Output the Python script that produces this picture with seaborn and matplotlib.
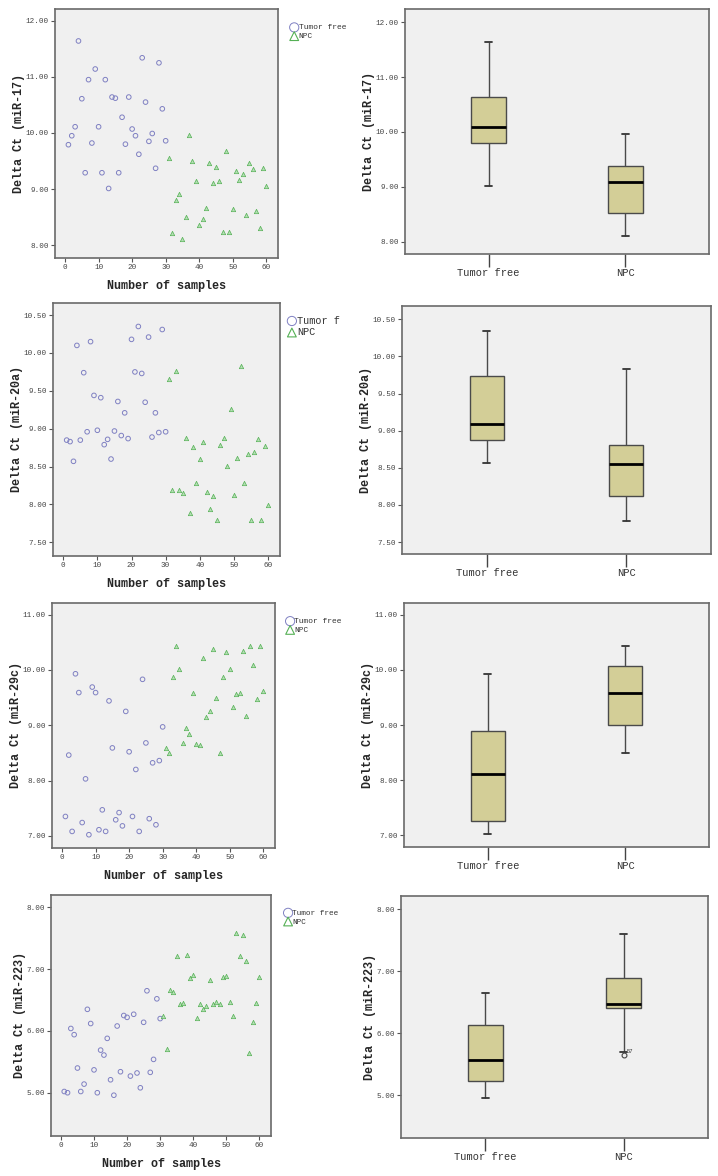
import numpy as np
import pandas as pd
import matplotlib
matplotlib.use("Agg")
import matplotlib.pyplot as plt
import seaborn as sns

sns.set_theme(style="white")
plt.rcParams['font.family'] = ['Liberation Mono', 'DejaVu Sans']

samples = list(range(1, 61))
groups = ["Tumor free", "NPC"]

# miR-17
tf_17 = [9.79, 9.95, 10.11, 11.64, 10.61, 9.29, 10.95, 9.82, 11.14, 10.11,
         9.29, 10.95, 9.01, 10.64, 10.62, 9.29, 10.28, 9.80, 10.64, 10.07,
         9.95, 9.62, 11.34, 10.55, 9.85, 9.99, 9.37, 11.25, 10.43, 9.86]
npc_17 = [9.56, 8.21, 8.81, 8.92, 8.11, 8.51, 9.96, 9.50, 9.15, 8.36,
          8.47, 8.67, 9.47, 9.11, 9.40, 9.15, 8.24, 9.67, 8.24, 8.64,
          9.33, 9.16, 9.26, 8.53, 9.46, 9.35, 8.61, 8.31, 9.38, 9.06]

# miR-20a
tf_20a = [8.85, 8.83, 8.57, 10.10, 8.85, 9.74, 8.96, 10.15, 9.44, 8.98,
          9.41, 8.79, 8.86, 8.60, 8.97, 9.36, 8.91, 9.21, 8.87, 10.18,
          9.75, 10.35, 9.73, 9.35, 10.21, 8.89, 9.21, 8.95, 10.31, 8.96]
npc_20a = [9.66, 8.19, 9.76, 8.19, 8.15, 8.88, 7.89, 8.76, 8.29, 8.60,
           8.82, 8.17, 7.94, 8.11, 7.79, 8.79, 8.88, 8.51, 9.26, 8.12,
           8.62, 9.83, 8.29, 8.66, 7.79, 8.69, 8.86, 7.80, 8.77, 7.99]

# miR-29c
tf_29c = [7.35, 8.46, 7.08, 9.93, 9.59, 7.24, 8.03, 7.02, 9.69, 9.59,
          7.11, 7.47, 7.08, 9.44, 8.59, 7.29, 7.42, 7.18, 9.25, 8.52,
          7.35, 8.20, 7.08, 9.83, 8.68, 7.31, 8.32, 7.20, 8.36, 8.97]
npc_29c = [8.59, 8.50, 9.87, 10.43, 10.01, 8.68, 8.95, 8.85, 9.59, 8.66,
           8.64, 10.22, 9.15, 9.26, 10.38, 9.49, 8.50, 9.87, 10.33, 10.01,
           9.33, 9.57, 9.59, 10.34, 9.17, 10.44, 10.09, 9.47, 10.44, 9.61]

# miR-223
tf_223 = [5.02, 5.00, 6.04, 5.94, 5.40, 5.02, 5.14, 6.35, 6.12, 5.37,
          5.00, 5.69, 5.61, 5.88, 5.21, 4.96, 6.08, 5.34, 6.25, 6.22,
          5.27, 6.27, 5.32, 5.08, 6.14, 6.65, 5.33, 5.54, 6.52, 6.20]
npc_223 = [6.25, 5.70, 6.66, 6.63, 7.21, 6.43, 6.46, 7.23, 6.86, 6.90,
           6.21, 6.43, 6.35, 6.40, 6.83, 6.43, 6.47, 6.44, 6.87, 6.89,
           6.47, 6.25, 7.59, 7.21, 7.55, 7.13, 5.64, 6.14, 6.45, 6.88]

mirnas = ["miR-17", "miR-20a", "miR-29c", "miR-223"]
tf_data = [tf_17, tf_20a, tf_29c, tf_223]
npc_data = [npc_17, npc_20a, npc_29c, npc_223]
legend_tf_labels = ["Tumor free", "Tumor f", "Tumor free", "Tumor free"]

# layout (pixels in a 718x1176 figure): left, right, top, bottom
W, H = 718, 1176
scatter_boxes = [(55, 278, 9, 258), (53, 280, 303, 556), (52, 275, 603, 848), (51, 271, 895, 1136)]
box_boxes = [(405, 709, 9, 254), (402, 711, 306, 554), (404, 709, 603, 847), (401, 708, 896, 1138)]
scatter_ylims = [(7.77, 12.21), (7.32, 10.66), (6.78, 11.21), (4.30, 8.20)]
box_ylims = [(7.775, 12.24), (7.34, 10.68), (6.79, 11.21), (4.31, 8.21)]
yticks = [np.arange(8, 12.01, 1), np.arange(7.5, 10.51, 0.5), np.arange(7, 11.01, 1), np.arange(5, 8.01, 1)]
legend_anchor = [(1.055, 0.94), (1.03, 0.95), (1.05, 0.94), (1.06, 0.94)]
legend_size = [5.7, 7.3, 5.7, 5.6]

bg = "#f0f0f0"
spine_col = "#6a6a6a"
circle_col = "#7f80c2"
tri_face = "#b3dfb3"
tri_edge = "#55b055"
box_fill = "#d3ce97"
box_line = "#4a4a4a"


def make_ax(fig, b):
    l, r, t, bt = b
    ax = fig.add_axes([l / W, 1 - bt / H, (r - l) / W, (bt - t) / H])
    ax.set_facecolor(bg)
    for s in ax.spines.values():
        s.set_color(spine_col)
        s.set_linewidth(1.2)
    return ax


fig = plt.figure(figsize=(W / 100, H / 100), dpi=100)

for i in range(4):
    df = pd.DataFrame({
        "sample": samples,
        "value": tf_data[i] + npc_data[i],
        "group": [groups[0]] * 30 + [groups[1]] * 30,
    })
    ylabel = "Delta Ct (%s)" % mirnas[i]

    # scatter panel
    ax = make_ax(fig, scatter_boxes[i])
    sns.scatterplot(data=df[df.group == groups[0]], x="sample", y="value", marker="o", s=11,
                    facecolor="none", edgecolor=circle_col, linewidth=0.7,
                    label=legend_tf_labels[i], ax=ax)
    sns.scatterplot(data=df[df.group == groups[1]], x="sample", y="value", marker="^", s=10,
                    color=tri_face, edgecolor=tri_edge, linewidth=0.5,
                    label=groups[1], ax=ax)
    ax.set_xlim(-3, 63.5)
    ax.set_ylim(*scatter_ylims[i])
    ax.set_xticks(np.arange(0, 61, 10))
    ax.set_yticks(yticks[i])
    ax.set_yticklabels(["%.2f" % v for v in yticks[i]])
    ax.tick_params(axis="both", bottom=True, left=True, direction="out", length=3, width=0.8,
                   color="#555555", labelsize=5.5, labelcolor="#444444", pad=1.5)
    ax.set_ylabel(ylabel, fontsize=8.5, fontweight="bold", labelpad=0.5)
    ax.set_xlabel("Number of samples", fontsize=8.5, fontweight="bold", labelpad=6)
    leg = ax.legend(loc="upper left", bbox_to_anchor=legend_anchor[i], frameon=False,
                    fontsize=legend_size[i], markerscale=2.0, handletextpad=0.05,
                    borderaxespad=0, borderpad=0, labelspacing=0.15, handlelength=1.0)
    for t in leg.get_texts():
        t.set_color("#333333")
    # legend triangle is drawn as an outline
    leg.legend_handles[1].set_facecolor("none")
    leg.legend_handles[1].set_linewidth(0.8)

    # box panel
    bx = make_ax(fig, box_boxes[i])
    sns.boxplot(data=df, x="group", y="value", order=groups, ax=bx, width=0.25,
                color=box_fill, saturation=1, linecolor=box_line, linewidth=1.0,
                whis=1.5, capwidths=0.05,
                medianprops=dict(color="black", linewidth=2),
                capprops=dict(color="#333333", linewidth=1.3),
                flierprops=dict(marker="o", markersize=3.5, markerfacecolor="none",
                                markeredgecolor="#444444", markeredgewidth=0.8))
    bx.set_xlim(-0.61, 1.61)
    bx.set_ylim(*box_ylims[i])
    bx.set_yticks(yticks[i])
    bx.set_yticklabels(["%.2f" % v for v in yticks[i]])
    bx.tick_params(axis="y", left=True, direction="out", length=3, width=0.8,
                   color="#555555", labelsize=5.5, labelcolor="#444444", pad=1.5)
    bx.tick_params(axis="x", bottom=True, direction="out", length=9, width=1.0,
                   color="#444444", labelsize=7.5, labelcolor="#333333", pad=1)
    bx.set_xlabel("")
    bx.set_ylabel(ylabel, fontsize=8.5, fontweight="bold", labelpad=0.5)

    # label outliers with their sample number
    for gi, vals in enumerate([tf_data[i], npc_data[i]]):
        q1, q3 = np.percentile(vals, [25, 75])
        lo, hi = q1 - 1.5 * (q3 - q1), q3 + 1.5 * (q3 - q1)
        for k, v in enumerate(vals):
            if v < lo or v > hi:
                bx.annotate(str(samples[gi * 30 + k]), (gi, v), xytext=(2.5, 2),
                            textcoords="offset points", fontsize=4, color="#333333")

fig.savefig("out.png", dpi=100)
